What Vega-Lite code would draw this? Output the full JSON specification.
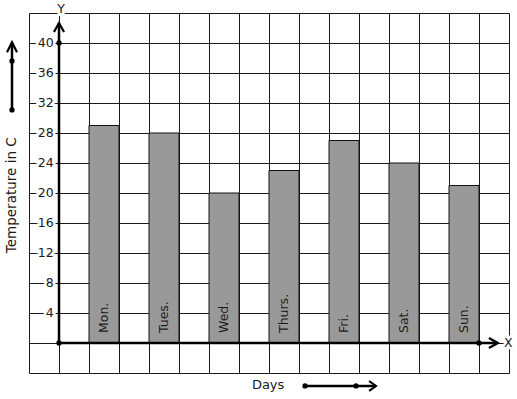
{
  "$schema": "https://vega.github.io/schema/vega-lite/v6.json",
  "width": 480,
  "height": 360,
  "autosize": "none",
  "padding": {"left": 29, "top": 13, "right": 8, "bottom": 26},
  "background": "white",
  "config": {
    "view": {"stroke": null},
    "text": {"font": "DejaVu Sans", "color": "#1a1a1a"},
    "axis": {"grid": true, "gridColor": "#1a1a1a", "gridWidth": 1, "gridOpacity": 1, "domain": false, "ticks": false, "labels": false, "titleOpacity": 0, "titleFontSize": 1, "tickCount": 30}
  },
  "datasets": {
    "temps": [
      {"day": "Mon.", "start": 1, "end": 2, "temp": 29},
      {"day": "Tues.", "start": 3, "end": 4, "temp": 28},
      {"day": "Wed.", "start": 5, "end": 6, "temp": 20},
      {"day": "Thurs.", "start": 7, "end": 8, "temp": 23},
      {"day": "Fri.", "start": 9, "end": 10, "temp": 27},
      {"day": "Sat.", "start": 11, "end": 12, "temp": 24},
      {"day": "Sun.", "start": 13, "end": 14, "temp": 21}
    ],
    "ticks": [{"t": 4}, {"t": 8}, {"t": 12}, {"t": 16}, {"t": 20}, {"t": 24}, {"t": 28}, {"t": 32}, {"t": 36}, {"t": 40}]
  },
  "layer": [
    {
      "data": {"name": "temps"},
      "mark": {"type": "rect", "fill": "#999999", "stroke": "#111", "strokeWidth": 1},
      "encoding": {
        "x": {"field": "start", "type": "quantitative",
          "scale": {"domain": [-1, 15], "nice": false, "zero": false},
          "axis": {"values": [-1,0,1,2,3,4,5,6,7,8,9,10,11,12,13,14,15], "tickCount": 30, "title": null}},
        "x2": {"field": "end"},
        "y": {"field": "temp", "type": "quantitative",
          "scale": {"domain": [-4, 44], "nice": false, "zero": false},
          "axis": {"values": [-4,0,4,8,12,16,20,24,28,32,36,40,44], "tickCount": 30, "title": null}},
        "y2": {"datum": 0}
      }
    },
    {
      "data": {"name": "temps"},
      "mark": {"type": "text", "angle": 270, "align": "left", "baseline": "middle", "dx": 10, "dy": 15, "fontSize": 12.5},
      "encoding": {
        "x": {"field": "start", "type": "quantitative"},
        "y": {"datum": 0, "type": "quantitative"},
        "text": {"field": "day"}
      }
    },
    {
      "data": {"name": "ticks"},
      "mark": {"type": "text", "align": "right", "baseline": "middle", "fontSize": 12.5, "fill": "white", "stroke": "white", "strokeWidth": 5},
      "encoding": {
        "x": {"datum": -0.18, "type": "quantitative"},
        "y": {"field": "t", "type": "quantitative"},
        "text": {"field": "t"}
      }
    },
    {
      "data": {"name": "ticks"},
      "mark": {"type": "text", "align": "right", "baseline": "middle", "fontSize": 12.5},
      "encoding": {
        "x": {"datum": -0.18, "type": "quantitative"},
        "y": {"field": "t", "type": "quantitative"},
        "text": {"field": "t"}
      }
    },
    {
      "data": {"values": [{}]},
      "mark": {"type": "rule", "stroke": "black", "strokeWidth": 2.5},
      "encoding": {
        "x": {"datum": 0, "type": "quantitative"},
        "y": {"datum": 0, "type": "quantitative"},
        "y2": {"datum": 42.67}
      }
    },
    {
      "data": {"values": [{}]},
      "mark": {"type": "rule", "stroke": "black", "strokeWidth": 2.5},
      "encoding": {
        "y": {"datum": 0, "type": "quantitative"},
        "x": {"datum": 0, "type": "quantitative"},
        "x2": {"datum": 14.63}
      }
    },
    {
      "data": {"values": [{}]},
      "mark": {"type": "point", "shape": "M-0.56,1L0,0L0.56,1", "filled": false, "stroke": "black", "strokeWidth": 2.2, "size": 324, "opacity": 1},
      "encoding": {
        "x": {"datum": 0, "type": "quantitative"},
        "y": {"datum": 42.67, "type": "quantitative"}
      }
    },
    {
      "data": {"values": [{}]},
      "mark": {"type": "point", "shape": "M-1,-0.56L0,0L-1,0.56", "filled": false, "stroke": "black", "strokeWidth": 2.2, "size": 324, "opacity": 1},
      "encoding": {
        "x": {"datum": 14.63, "type": "quantitative"},
        "y": {"datum": 0, "type": "quantitative"}
      }
    },
    {
      "data": {"values": [{}]},
      "mark": {"type": "point", "shape": "circle", "filled": true, "color": "black", "size": 28, "opacity": 1},
      "encoding": {
        "x": {"datum": 0, "type": "quantitative"},
        "y": {"datum": 0, "type": "quantitative"}
      }
    },
    {
      "data": {"values": [{}]},
      "mark": {"type": "point", "shape": "circle", "filled": true, "color": "black", "size": 28, "opacity": 1},
      "encoding": {
        "x": {"datum": 0, "type": "quantitative"},
        "y": {"datum": 40, "type": "quantitative"}
      }
    },
    {
      "data": {"values": [{}]},
      "mark": {"type": "point", "shape": "circle", "filled": true, "color": "black", "size": 28, "opacity": 1},
      "encoding": {
        "x": {"datum": 14, "type": "quantitative"},
        "y": {"datum": 0, "type": "quantitative"}
      }
    },
    {
      "data": {"values": [{}]},
      "mark": {"type": "text", "text": "Y", "align": "center", "baseline": "middle", "fontSize": 12.5, "fill": "white", "stroke": "white", "strokeWidth": 6},
      "encoding": {
        "x": {"datum": 0.07, "type": "quantitative"},
        "y": {"datum": 44.5, "type": "quantitative"}
      }
    },
    {
      "data": {"values": [{}]},
      "mark": {"type": "text", "text": "Y", "align": "center", "baseline": "middle", "fontSize": 12.5},
      "encoding": {
        "x": {"datum": 0.07, "type": "quantitative"},
        "y": {"datum": 44.5, "type": "quantitative"}
      }
    },
    {
      "data": {"values": [{}]},
      "mark": {"type": "text", "text": "X", "align": "center", "baseline": "middle", "fontSize": 12.5, "fill": "white", "stroke": "white", "strokeWidth": 5},
      "encoding": {
        "x": {"datum": 14.98, "type": "quantitative"},
        "y": {"datum": 0, "type": "quantitative"}
      }
    },
    {
      "data": {"values": [{}]},
      "mark": {"type": "text", "text": "X", "align": "center", "baseline": "middle", "fontSize": 12.5},
      "encoding": {
        "x": {"datum": 14.98, "type": "quantitative"},
        "y": {"datum": 0, "type": "quantitative"}
      }
    },
    {
      "data": {"values": [{}]},
      "mark": {"type": "text", "text": "Temperature in C", "angle": 270, "align": "center", "baseline": "middle", "fontSize": 13.5},
      "encoding": {
        "x": {"datum": -1.567, "type": "quantitative"},
        "y": {"datum": 19.7, "type": "quantitative"}
      }
    },
    {
      "data": {"values": [{}]},
      "mark": {"type": "rule", "stroke": "black", "strokeWidth": 2.5},
      "encoding": {
        "x": {"datum": -1.567, "type": "quantitative"},
        "y": {"datum": 31.07, "type": "quantitative"},
        "y2": {"datum": 40.1}
      }
    },
    {
      "data": {"values": [{}]},
      "mark": {"type": "point", "shape": "M-0.5,1L0,0L0.5,1", "filled": false, "stroke": "black", "strokeWidth": 2.2, "size": 400, "opacity": 1},
      "encoding": {
        "x": {"datum": -1.567, "type": "quantitative"},
        "y": {"datum": 40.1, "type": "quantitative"}
      }
    },
    {
      "data": {"values": [{}]},
      "mark": {"type": "point", "shape": "circle", "filled": true, "color": "black", "size": 28, "opacity": 1},
      "encoding": {
        "x": {"datum": -1.567, "type": "quantitative"},
        "y": {"datum": 37.6, "type": "quantitative"}
      }
    },
    {
      "data": {"values": [{}]},
      "mark": {"type": "point", "shape": "circle", "filled": true, "color": "black", "size": 28, "opacity": 1},
      "encoding": {
        "x": {"datum": -1.567, "type": "quantitative"},
        "y": {"datum": 31.07, "type": "quantitative"}
      }
    },
    {
      "data": {"values": [{}]},
      "mark": {"type": "text", "text": "Days", "align": "center", "baseline": "middle", "fontSize": 13},
      "encoding": {
        "x": {"datum": 6.97, "type": "quantitative"},
        "y": {"datum": -5.6, "type": "quantitative"}
      }
    },
    {
      "data": {"values": [{}]},
      "mark": {"type": "rule", "stroke": "black", "strokeWidth": 2.5},
      "encoding": {
        "y": {"datum": -5.73, "type": "quantitative"},
        "x": {"datum": 8.2, "type": "quantitative"},
        "x2": {"datum": 10.57}
      }
    },
    {
      "data": {"values": [{}]},
      "mark": {"type": "point", "shape": "M-1,-0.7L0,0L-1,0.7", "filled": false, "stroke": "black", "strokeWidth": 2, "size": 196, "opacity": 1},
      "encoding": {
        "x": {"datum": 10.57, "type": "quantitative"},
        "y": {"datum": -5.73, "type": "quantitative"}
      }
    },
    {
      "data": {"values": [{}]},
      "mark": {"type": "point", "shape": "circle", "filled": true, "color": "black", "size": 28, "opacity": 1},
      "encoding": {
        "x": {"datum": 8.2, "type": "quantitative"},
        "y": {"datum": -5.73, "type": "quantitative"}
      }
    },
    {
      "data": {"values": [{}]},
      "mark": {"type": "point", "shape": "circle", "filled": true, "color": "black", "size": 28, "opacity": 1},
      "encoding": {
        "x": {"datum": 9.9, "type": "quantitative"},
        "y": {"datum": -5.73, "type": "quantitative"}
      }
    }
  ]
}
